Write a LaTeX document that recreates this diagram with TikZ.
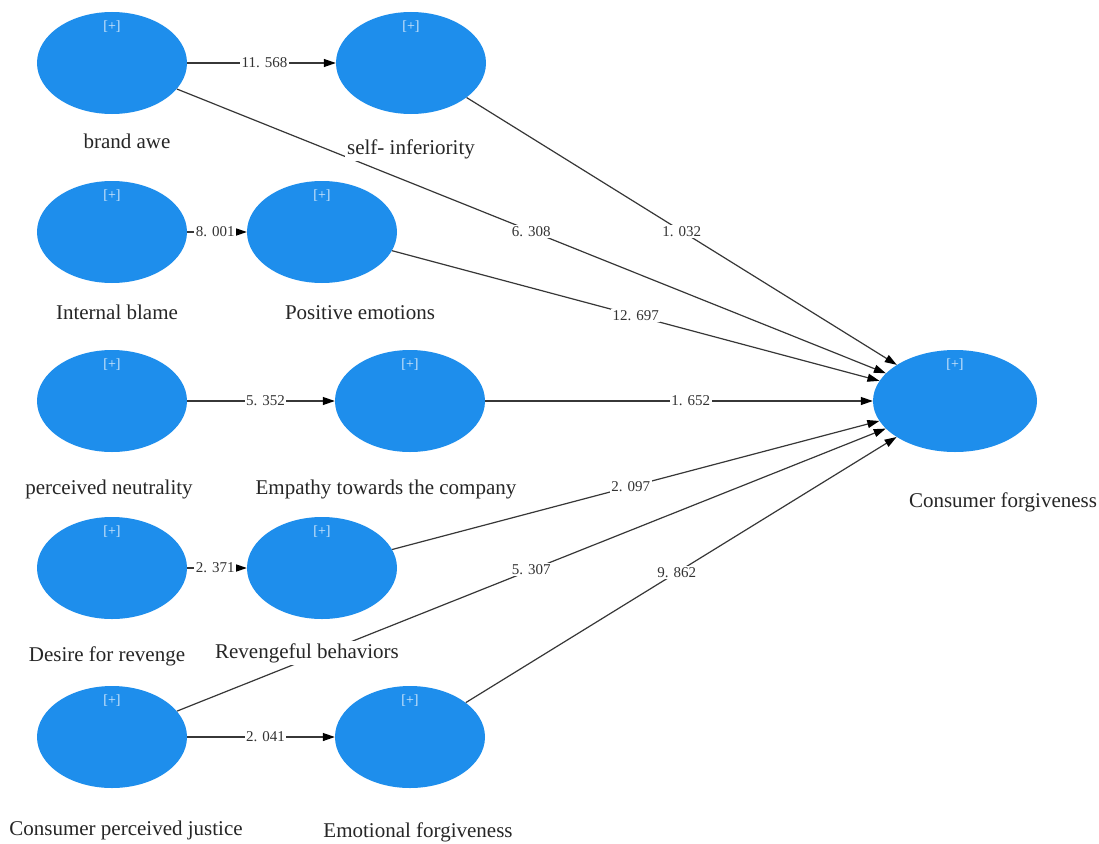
\documentclass[tikz,border=0pt]{standalone}
\usepackage{fontspec}
\setmainfont{Liberation Serif}
\newfontfamily\labfont{Liberation Serif}
\usetikzlibrary{shapes.geometric,arrows.meta}
\pgfdeclarelayer{bg}
\pgfsetlayers{bg,main}
\definecolor{lvc}{RGB}{30,142,236}
\definecolor{edgec}{RGB}{55,55,55}
\begin{document}
\begin{tikzpicture}[x=1pt,y=-1pt,
  lv/.style={ellipse, fill=lvc, minimum width=150pt, minimum height=102pt, inner sep=0pt},
  lbl/.style={anchor=base, font=\labfont\fontsize{21}{24}\selectfont, fill=white, inner sep=2pt, text=black!85},
  plusmark/.style={anchor=north, font=\labfont\fontsize{14}{16}\selectfont, text=white!80!lvc, inner sep=0pt},
  conn/.style={draw=edgec, line width=1.2pt, -{Triangle[length=12pt,width=8pt,color=black]}},
  elab/.style={font=\labfont\fontsize{15}{17}\selectfont, fill=white, inner sep=1.5pt, text=black!80}]
\useasboundingbox (0,0) rectangle (1099,843);
% latent variables
\node[lv] (ba) at (112,63) {};
\node[lv] (si) at (411,63) {};
\node[lv] (ib) at (112,232) {};
\node[lv] (pe) at (322,232) {};
\node[lv] (pn) at (112,401) {};
\node[lv] (em) at (410,401) {};
\node[lv] (dr) at (112,568) {};
\node[lv] (rb) at (322,568) {};
\node[lv] (cj) at (112,737) {};
\node[lv] (ef) at (410,737) {};
\node[lv, minimum width=164pt, minimum height=102pt] (cf) at (955,401) {};
% [+] marks
\foreach \n in {ba,si,ib,pe,pn,em,dr,rb,cj,ef,cf}
  \node[plusmark, below=9pt] (p-\n) at (\n.north) {[+]};
% names
\node[lbl] (t-ba) at (127,148) {brand awe};
\node[lbl] (t-si) at (411,154) {self- inferiority};
\node[lbl] (t-ib) at (117,319) {Internal blame};
\node[lbl] (t-pe) at (360,319) {Positive emotions};
\node[lbl] (t-pn) at (109,494) {perceived neutrality};
\node[lbl] (t-em) at (386,494) {Empathy towards the company};
\node[lbl] (t-dr) at (107,661) {Desire for revenge};
\node[lbl] (t-rb) at (307,658) {Revengeful behaviors};
\node[lbl] (t-cj) at (126,835) {Consumer perceived justice};
\node[lbl] (t-ef) at (418,837) {Emotional forgiveness};
\node[lbl] (t-cf) at (1003,507) {Consumer forgiveness};
% paths
\begin{pgfonlayer}{bg}
\fill[white] (0,0) rectangle (1099,843);
\draw[conn] (ba) -- node[elab,pos=0.52] (e1) {11. 568} (si);
\draw[conn] (ba) -- node[elab,pos=0.5] (e2) {6. 308} (cf);
\draw[conn] (si) -- node[elab,pos=0.5] (e3) {1. 032} (cf);
\draw[conn] (ib) -- node[elab,pos=0.47] (e4) {8. 001} (pe);
\draw[conn] (pe) -- node[elab,pos=0.5] (e5) {12. 697} (cf);
\draw[conn] (pn) -- node[elab,pos=0.53] (e6) {5. 352} (em);
\draw[conn] (em) -- node[elab,pos=0.53] (e7) {1. 652} (cf);
\draw[conn] (dr) -- node[elab,pos=0.47] (e8) {2. 371} (rb);
\draw[conn] (rb) -- node[elab,pos=0.49] (e9) {2. 097} (cf);
\draw[conn] (cj) -- node[elab,pos=0.5] (e10) {5. 307} (cf);
\draw[conn] (ef) -- node[elab,pos=0.49] (e11) {9. 862} (cf);
\draw[conn] (cj) -- node[elab,pos=0.53] (e12) {2. 041} (ef);
\end{pgfonlayer}
\end{tikzpicture}
\end{document}
